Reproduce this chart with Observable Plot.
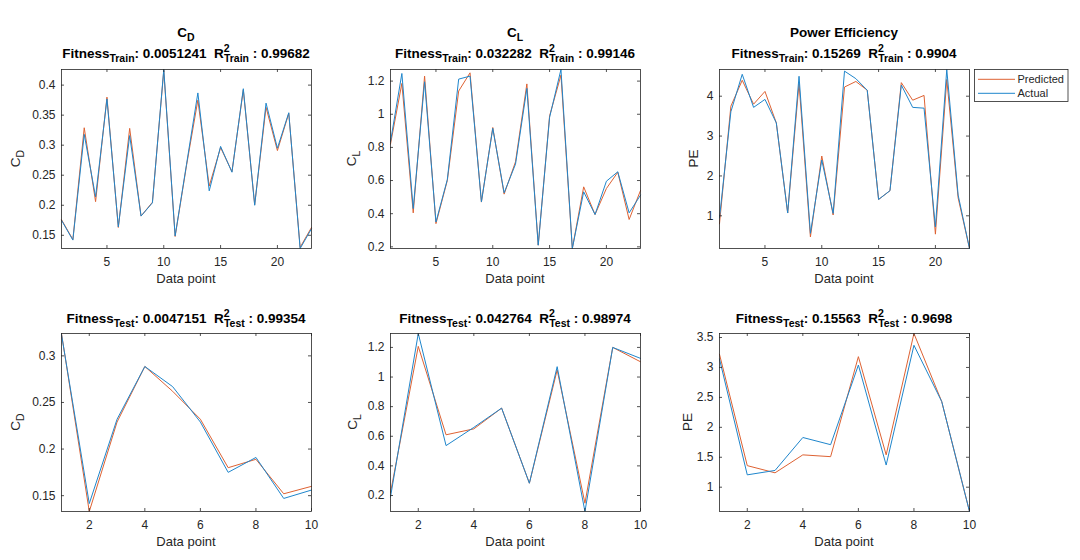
<!DOCTYPE html>
<html><head><meta charset="utf-8">
<script src="https://cdn.jsdelivr.net/npm/d3@7"></script>
<script src="https://cdn.jsdelivr.net/npm/@observablehq/plot@0.6"></script>
<style>
body{margin:0;background:#fff;}
#root{position:relative;width:1080px;height:560px;background:#fff;font-family:"Liberation Sans",Arial,sans-serif;}
#root svg{position:absolute;overflow:visible;}
</style></head><body><div id="root"></div>
<script>
// ---- data ----
const cdTrainPredicted = [0.176,0.143,0.329,0.206,0.380,0.163,0.328,0.182,0.205,0.424,0.148,0.266,0.375,0.232,0.296,0.256,0.392,0.201,0.363,0.291,0.353,0.130,0.163];
const cdTrainActual    = [0.175,0.142,0.318,0.214,0.377,0.164,0.316,0.182,0.204,0.426,0.149,0.268,0.387,0.224,0.298,0.255,0.394,0.200,0.370,0.295,0.354,0.128,0.161];
const clTrainPredicted = [0.82,1.186,0.405,1.23,0.34,0.60,1.14,1.25,0.47,0.92,0.518,0.713,1.183,0.21,0.99,1.236,0.19,0.562,0.395,0.552,0.65,0.365,0.54];
const clTrainActual    = [0.834,1.246,0.431,1.196,0.35,0.606,1.212,1.23,0.472,0.915,0.526,0.699,1.156,0.21,0.981,1.27,0.19,0.532,0.395,0.596,0.653,0.405,0.512];
const peTrainPredicted = [0.80,3.75,4.40,3.80,4.12,3.33,1.07,4.32,0.47,2.50,1.02,4.23,4.37,4.15,1.41,1.63,4.34,3.90,4.02,0.54,4.42,1.45,0.18];
const peTrainActual    = [0.95,3.61,4.55,3.72,3.92,3.33,1.07,4.50,0.56,2.40,1.06,4.63,4.44,4.15,1.41,1.63,4.28,3.72,3.70,0.72,4.67,1.52,0.18];
const cdTestPredicted  = [0.324,0.133,0.229,0.2886,0.262,0.232,0.180,0.189,0.152,0.160];
const cdTestActual     = [0.323,0.1415,0.232,0.2886,0.267,0.229,0.175,0.191,0.147,0.156];
const clTestPredicted  = [0.22,1.207,0.61,0.65,0.79,0.283,1.048,0.148,1.2,1.103];
const clTestActual     = [0.19,1.294,0.537,0.66,0.79,0.283,1.07,0.092,1.2,1.126];
const peTestPredicted  = [3.22,1.36,1.24,1.54,1.51,3.18,1.54,3.567,2.43,0.594];
const peTestActual     = [3.14,1.206,1.28,1.83,1.71,3.04,1.37,3.37,2.43,0.594];

const xTicksTrain = [5,10,15,20];
const xTicksTest = [2,4,6,8,10];
const yTicksCdTrain = [0.15,0.2,0.25,0.3,0.35,0.4];
const yTicksClTrain = [0.2,0.4,0.6,0.8,1,1.2];
const yTicksPeTrain = [1,2,3,4];
const yTicksCdTest = [0.15,0.2,0.25,0.3];
const yTicksClTest = [0.2,0.4,0.6,0.8,1,1.2];
const yTicksPeTest = [1,1.5,2,2.5,3,3.5];

const fitnessTrain = ["0.0051241","0.032282","0.15269"];
const r2Train = ["0.99682","0.99146","0.9904"];
const fitnessTest = ["0.0047151","0.042764","0.15563"];
const r2Test = ["0.99354","0.98974","0.9698"];
const seriesNames = ["Predicted","Actual"];

// ---- style ----
const predColor = "#DE6233", actColor = "#1F86CC", axisColor = "#262626";
const FONT = '"Liberation Sans", Arial, sans-serif';
const colLeft = [61, 390, 719];
const yLabelOffset = [[41, 34, 21],[41, 33, 27]];
const ylab = [["C","D"],["C","L"],["PE",null]];

const panels = [
  {row:0,col:0,pred:cdTrainPredicted,act:cdTrainActual,yt:yTicksCdTrain,xt:xTicksTrain,fit:fitnessTrain[0],r2:r2Train[0],set:"Train",title:["C","D"]},
  {row:0,col:1,pred:clTrainPredicted,act:clTrainActual,yt:yTicksClTrain,xt:xTicksTrain,fit:fitnessTrain[1],r2:r2Train[1],set:"Train",title:["C","L"]},
  {row:0,col:2,pred:peTrainPredicted,act:peTrainActual,yt:yTicksPeTrain,xt:xTicksTrain,fit:fitnessTrain[2],r2:r2Train[2],set:"Train",title:["Power Efficiency",null]},
  {row:1,col:0,pred:cdTestPredicted,act:cdTestActual,yt:yTicksCdTest,xt:xTicksTest,fit:fitnessTest[0],r2:r2Test[0],set:"Test",title:null},
  {row:1,col:1,pred:clTestPredicted,act:clTestActual,yt:yTicksClTest,xt:xTicksTest,fit:fitnessTest[1],r2:r2Test[1],set:"Test",title:null},
  {row:1,col:2,pred:peTestPredicted,act:peTestActual,yt:yTicksPeTest,xt:xTicksTest,fit:fitnessTest[2],r2:r2Test[2],set:"Test",title:null},
];

const root = document.getElementById("root");
const fmt = d => String(+(+d).toFixed(4));

for (const p of panels) {
  const n = p.pred.length;
  const W = 330, ML = 61, MR = 19;
  const top = p.row === 0 ? 0 : 290;
  const H = p.row === 0 ? 290 : 270;
  const MT = p.row === 0 ? 69 : 43;
  const MB = p.row === 0 ? 42 : 49;
  const fw = W - ML - MR, fh = H - MT - MB;
  const [ymin, ymax] = d3.extent([...p.pred, ...p.act]);
  const svg = Plot.plot({
    width: W, height: H, marginLeft: ML, marginRight: MR, marginTop: MT, marginBottom: MB,
    x: {domain: [1, n]},
    y: {domain: [ymin, ymax]},
    style: {fontFamily: FONT, fontSize: "12px", color: axisColor, background: "transparent", overflow: "visible"},
    marks: [
      Plot.lineY(p.pred, {x: (d, i) => i + 1, y: d => d, stroke: predColor, strokeWidth: 1}),
      Plot.lineY(p.act, {x: (d, i) => i + 1, y: d => d, stroke: actColor, strokeWidth: 1}),
      Plot.tickY(p.yt, {y: d => d, insetRight: fw - 3, stroke: axisColor, strokeWidth: 0.8}),
      Plot.tickY(p.yt, {y: d => d, insetLeft: fw - 3, stroke: axisColor, strokeWidth: 0.8}),
      Plot.tickX(p.xt, {x: d => d, insetBottom: fh - 3, stroke: axisColor, strokeWidth: 0.8}),
      Plot.tickX(p.xt, {x: d => d, insetTop: fh - 3, stroke: axisColor, strokeWidth: 0.8}),
      Plot.axisX({ticks: p.xt, tickSize: 0, tickPadding: 9, label: null, tickFormat: fmt}),
      Plot.axisY({ticks: p.yt, tickSize: 0, tickPadding: 6, label: null, tickFormat: fmt}),
      Plot.frame({stroke: axisColor, strokeWidth: 0.8})
    ]
  });
  svg.style.left = (colLeft[p.col] - ML) + "px";
  svg.style.top = top + "px";
  root.appendChild(svg);
  const s = d3.select(svg);
  const cx = ML + fw / 2;

  // main title
  if (p.title) {
    const t = s.append("text").attr("x", cx).attr("y", 37).attr("text-anchor", "middle")
      .attr("font-family", FONT).attr("font-weight", "bold").attr("font-size", 13.5).attr("fill", "#000");
    t.append("tspan").text(p.title[0]);
    if (p.title[1]) t.append("tspan").attr("font-size", 10.5).attr("dy", 3.5).text(p.title[1]);
  }
  // subtitle
  const sy = p.row === 0 ? 57.5 : 32.7;
  const st = s.append("text").attr("x", cx).attr("y", sy).attr("text-anchor", "middle")
    .attr("font-family", FONT).attr("font-weight", "bold").attr("font-size", 13.5).attr("fill", "#000");
  st.append("tspan").text("Fitness");
  st.append("tspan").attr("font-size", 10.5).attr("dy", 4).text(p.set);
  st.append("tspan").attr("dy", -4).text(": " + p.fit + "\u00A0\u00A0R");
  st.append("tspan").attr("font-size", 10.5).attr("dy", -6).text("2");
  st.append("tspan").attr("font-size", 10.5).attr("dx", -5.8).attr("dy", 10).text(p.set);
  st.append("tspan").attr("dy", -4).text("\u00A0: " + p.r2);

  // x label
  s.append("text").attr("x", cx).attr("y", MT + fh + 35).attr("text-anchor", "middle")
    .attr("font-family", FONT).attr("font-size", 13).attr("fill", axisColor).text("Data point");

  // y label
  const lx = ML - yLabelOffset[p.row][p.col], ly = MT + fh / 2;
  const yl = s.append("text").attr("transform", `translate(${lx},${ly}) rotate(-90)`).attr("text-anchor", "middle")
    .attr("font-family", FONT).attr("font-size", 13.5).attr("fill", axisColor);
  yl.append("tspan").text(ylab[p.col][0]);
  if (ylab[p.col][1]) yl.append("tspan").attr("font-size", 10.5).attr("dy", 3.5).text(ylab[p.col][1]);
}

// legend
const lg = d3.select(root).append("svg").attr("width", 95).attr("height", 33)
  .style("left", "974px").style("top", "69px");
lg.append("rect").attr("x", 0.5).attr("y", 0.5).attr("width", 93.5).attr("height", 32)
  .attr("fill", "#fff").attr("stroke", axisColor).attr("stroke-width", 0.8);
[predColor, actColor].forEach((c, i) => {
  const y = 10.3 + i * 14;
  lg.append("line").attr("x1", 4).attr("x2", 41).attr("y1", y).attr("y2", y).attr("stroke", c).attr("stroke-width", 1);
  lg.append("text").attr("x", 43.5).attr("y", y).attr("dy", "0.35em").attr("font-family", FONT)
    .attr("font-size", 11).attr("fill", axisColor).text(seriesNames[i]);
});
</script>
</body></html>
